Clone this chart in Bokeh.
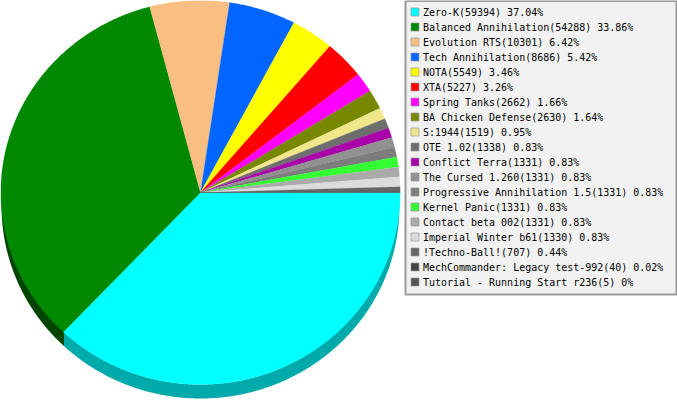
import math
from bokeh.plotting import figure
from bokeh.models import Range1d
from bokeh.core.properties import value
from bokeh.embed import file_html
from bokeh.resources import INLINE

names = ["Zero-K", "Balanced Annihilation", "Evolution RTS", "Tech Annihilation", "NOTA", "XTA",
         "Spring Tanks", "BA Chicken Defense", "S:1944", "OTE 1.02", "Conflict Terra", "The Cursed 1.260",
         "Progressive Annihilation 1.5", "Kernel Panic", "Contact beta 002", "Imperial Winter b61",
         "!Techno-Ball!", "MechCommander: Legacy test-992", "Tutorial - Running Start r236"]
counts = [59394, 54288, 10301, 8686, 5549, 5227, 2662, 2630, 1519, 1338, 1331, 1331, 1331, 1331, 1331, 1330, 707, 40, 5]
percents = ["37.04", "33.86", "6.42", "5.42", "3.46", "3.26", "1.66", "1.64", "0.95", "0.83", "0.83", "0.83",
            "0.83", "0.83", "0.83", "0.83", "0.44", "0.02", "0"]
colors = ["#00ffff", "#008800", "#f8be82", "#0066ff", "#ffff00", "#ff0000", "#ff00ff", "#778800", "#f0e68c",
          "#6e6e6e", "#aa00aa", "#919191", "#7d7d7d", "#33ff33", "#aaaaaa", "#dcdcdc", "#666666", "#444444", "#555555"]
shadows = ["#00aaaa", "#004400"]

CX, CY, RX, RY, DEPTH = 200, 192, 199.7, 192, 14
scale_w, scale_h = 677, 400
p = figure(width=scale_w, height=scale_h, output_backend="svg", toolbar_location=None,
           x_range=Range1d(0, scale_w), y_range=Range1d(scale_h, 0), min_border=0, outline_line_color=None)
p.axis.visible = False
p.grid.visible = False
p.background_fill_color = "#ffffff"
p.border_fill_color = "#ffffff"

total = sum(counts)

def arc(a0, a1, rx=RX):
    n = max(2, int(abs(a1 - a0) * 180))
    return [(CX + rx * math.cos(a0 + (a1 - a0) * i / n), CY + RY * math.sin(a0 + (a1 - a0) * i / n)) for i in range(n + 1)]

xs, ys, fills, sxs, sys_, sfills = [], [], [], [], [], []
a = 0.0
for i, c in enumerate(counts):
    b = a + c / total * 2 * math.pi
    pts = [(CX, CY)] + arc(a, b)
    xs.append([q[0] for q in pts]); ys.append([q[1] for q in pts]); fills.append(colors[i])
    if a < math.pi:
        e = arc(a, min(b, math.pi), RX - 0.8)
        sxs.append([q[0] for q in e] + [q[0] for q in reversed(e)])
        sys_.append([q[1] for q in e] + [q[1] + DEPTH for q in reversed(e)])
        sfills.append(shadows[i])
    a = b

p.patches(sxs, sys_, fill_color=sfills, line_color=None)
p.patches(xs, ys, fill_color=fills, line_color=fills, line_width=0.2)

# legend box
p.quad(left=[405], right=[676], top=[0.5], bottom=[294], fill_color="#f2f2f2", line_color="#999999", line_width=2)
rows = [12 + 15 * i for i in range(len(names))]
p.quad(left=[410.5] * len(rows), right=[418.5] * len(rows), top=[r - 4.5 for r in rows], bottom=[r + 3.5 for r in rows],
       fill_color=colors, line_color="#999999", line_width=0.7)
labels = [f"{n}({c}) {q}%" for n, c, q in zip(names, counts, percents)]
p.text(x=[422.6] * len(rows), y=[r - 0.3 for r in rows], text=labels, text_font=value("DejaVu Sans Mono"), text_font_size="9.97px",
       text_color="#000000", text_baseline="middle", text_align="left")

html = file_html(p, INLINE)
html = html.replace("<head>", "<head><style>html,body{margin:0;padding:0;overflow:hidden}</style>", 1)
open("out.html", "w").write(html)
